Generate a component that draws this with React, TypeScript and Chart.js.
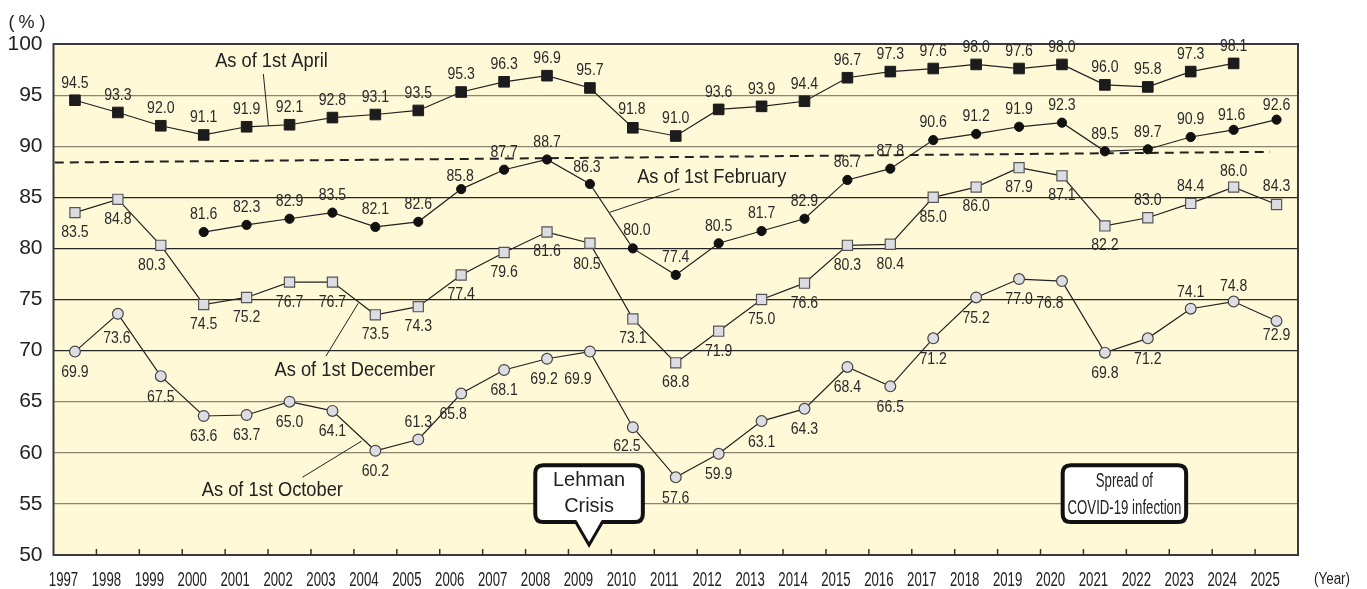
import { useEffect, useRef } from 'react';
import { Chart, registerables } from 'chart.js';

Chart.register(...registerables);

// ---------------- data ----------------
const years = ['1997','1998','1999','2000','2001','2002','2003','2004','2005','2006','2007','2008','2009','2010','2011','2012','2013','2014','2015','2016','2017','2018','2019','2020','2021','2022','2023','2024','2025'];
const aprilRates = [94.5, 93.3, 92.0, 91.1, 91.9, 92.1, 92.8, 93.1, 93.5, 95.3, 96.3, 96.9, 95.7, 91.8, 91.0, 93.6, 93.9, 94.4, 96.7, 97.3, 97.6, 98.0, 97.6, 98.0, 96.0, 95.8, 97.3, 98.1];
const februaryRates = [null, null, null, 81.6, 82.3, 82.9, 83.5, 82.1, 82.6, 85.8, 87.7, 88.7, 86.3, 80.0, 77.4, 80.5, 81.7, 82.9, 86.7, 87.8, 90.6, 91.2, 91.9, 92.3, 89.5, 89.7, 90.9, 91.6, 92.6];
const decemberRates = [83.5, 84.8, 80.3, 74.5, 75.2, 76.7, 76.7, 73.5, 74.3, 77.4, 79.6, 81.6, 80.5, 73.1, 68.8, 71.9, 75.0, 76.6, 80.3, 80.4, 85.0, 86.0, 87.9, 87.1, 82.2, 83.0, 84.4, 86.0, 84.3];
const octoberRates = [69.9, 73.6, 67.5, 63.6, 63.7, 65.0, 64.1, 60.2, 61.3, 65.8, 68.1, 69.2, 69.9, 62.5, 57.6, 59.9, 63.1, 64.3, 68.4, 66.5, 71.2, 75.2, 77.0, 76.8, 69.8, 71.2, 74.1, 74.8, 72.9];
const referenceLineValues = [88.4, 89.45];
const referenceLineSpan = [0.03, 28.35];
const yMin = 50;
const yMax = 100;
const yStep = 5;

// ---------------- styling / annotation layout ----------------
const FONT = "'Liberation Sans', Arial, Helvetica, sans-serif";

// label offsets (px) relative to marker centre: default dy and per-year exceptions [dx, dy]
const labelPlacement: Record<string, { dy: number; ex: Record<number, [number, number]> }> = {
  april: { dy: -17, ex: { 13: [-1, -18] } },
  february: { dy: -17, ex: { 9: [-1, -13], 12: [-3, -16], 13: [4, -18], 27: [-2, -14], 28: [0, -14] } },
  december: { dy: 20, ex: { 2: [-9, 20], 12: [-3, 21], 25: [0, -17], 26: [0, -17], 27: [0, -15], 28: [0, -18] } },
  october: { dy: 21, ex: { 1: [-1, 25], 8: [0, -17], 9: [-8, 21], 11: [-3, 21], 12: [-12, 28], 13: [-6, 19], 23: [-12, 22], 26: [0, -16], 27: [0, -15], 28: [0, 15] } },
};

const seriesCaptions = [
  { text: 'As of 1st April', at: [5.08, 98.34], leader: [[4.89, 97.06], [5.01, 91.98]] },
  { text: 'As of 1st February', at: [15.34, 86.99], leader: [[14.59, 85.81], [12.96, 83.53]] },
  { text: 'As of 1st December', at: [7.02, 68.05], leader: [[7.1, 74.63], [6.35, 69.47]] },
  { text: 'As of 1st October', at: [5.1, 56.31], leader: [[7.18, 61.15], [5.8, 57.6]] },
];

const eventBoxes = [
  { lines: ['Lehman', 'Crisis'], box: [11.18, 58.97, 13.78, 53.03], pointer: [12.17, 12.79, 12.48, 50.98], font: 21, sx: 0.95, lineY: [57.34, 54.73] },
  { lines: ['Spread of', 'COVID-19 infection'], box: [23.47, 58.97, 26.44, 53.03], pointer: null, font: 20, sx: 0.66, lineY: [57.2, 54.6] },
];

const toPoints = (arr: (number | null)[]) =>
  arr.map((v, i) => (v == null ? null : { x: i + 0.5, y: v })).filter(Boolean) as { x: number; y: number }[];

function drawText(ctx: CanvasRenderingContext2D, text: string, x: number, y: number, size: number, sx: number, color = '#222') {
  ctx.save();
  ctx.font = `${size}px ${FONT}`;
  ctx.fillStyle = color;
  ctx.textAlign = 'center';
  ctx.textBaseline = 'middle';
  ctx.translate(x, y);
  ctx.scale(sx, 1);
  ctx.fillText(text, 0, 0);
  ctx.restore();
}

function roundRectPath(ctx: CanvasRenderingContext2D, x: number, y: number, w: number, h: number, r: number) {
  ctx.beginPath();
  ctx.moveTo(x + r, y);
  ctx.lineTo(x + w - r, y);
  ctx.quadraticCurveTo(x + w, y, x + w, y + r);
  ctx.lineTo(x + w, y + h - r);
  ctx.quadraticCurveTo(x + w, y + h, x + w - r, y + h);
  ctx.lineTo(x + r, y + h);
  ctx.quadraticCurveTo(x, y + h, x, y + h - r);
  ctx.lineTo(x, y + r);
  ctx.quadraticCurveTo(x, y, x + r, y);
  ctx.closePath();
}

const decorPlugin = {
  id: 'decor',
  beforeDraw(chart: any) {
    const { ctx, chartArea: a } = chart;
    ctx.save();
    ctx.fillStyle = '#ffffff';
    ctx.fillRect(0, 0, chart.width, chart.height);
    ctx.fillStyle = '#FFF9D8';
    ctx.fillRect(a.left, a.top, a.right - a.left, a.bottom - a.top);
    ctx.restore();
  },
  beforeDatasetsDraw(chart: any) {
    const { ctx, chartArea: a, scales } = chart;
    const xs = scales.x;
    ctx.save();
    // frame
    ctx.strokeStyle = '#3a3a3a';
    ctx.lineWidth = 2;
    ctx.strokeRect(a.left, a.top, a.right - a.left, a.bottom - a.top);
    // inner tick marks + year labels
    ctx.lineWidth = 1.5;
    ctx.strokeStyle = '#333';
    xs.ticks.forEach((t: any) => {
      const px = xs.getPixelForValue(t.value);
      if (t.value > 0 && t.value < years.length) {
        ctx.beginPath();
        ctx.moveTo(px, a.bottom);
        ctx.lineTo(px, a.bottom - 6);
        ctx.stroke();
      }
      if (t.value < years.length) {
        drawText(ctx, years[t.value], px + 10, a.bottom + 25.5, 20, 0.66, '#222');
      }
    });
    drawText(ctx, '(Year)', a.right + 34, a.bottom + 25, 16, 0.84, '#222');
    // "(%)" with wide parentheses
    const pcx = a.left - 27;
    const pcy = a.top - 21;
    drawText(ctx, '(', pcx - 15, pcy, 18, 1, '#222');
    drawText(ctx, '%', pcx, pcy, 18, 1, '#222');
    drawText(ctx, ')', pcx + 16, pcy, 18, 1, '#222');
    ctx.restore();
  },
  afterDatasetsDraw(chart: any) {
    const { ctx, scales } = chart;
    const xs = scales.x;
    const ys = scales.y;
    const keys = ['april', 'february', 'december', 'october'];
    keys.forEach((key, di) => {
      const meta = chart.getDatasetMeta(di);
      const ds = chart.data.datasets[di];
      const place = labelPlacement[key];
      meta.data.forEach((el: any, j: number) => {
        const raw = ds.data[j];
        const yi = Math.round(raw.x - 0.5);
        const off = place.ex[yi] || [0, place.dy];
        drawText(ctx, raw.y.toFixed(1), el.x + off[0], el.y + off[1], 16, 0.88, '#2a2a2a');
      });
    });

    // captions with leader lines
    ctx.save();
    ctx.strokeStyle = '#222';
    ctx.lineWidth = 1;
    seriesCaptions.forEach((c) => {
      ctx.beginPath();
      ctx.moveTo(xs.getPixelForValue(c.leader[0][0]), ys.getPixelForValue(c.leader[0][1]));
      ctx.lineTo(xs.getPixelForValue(c.leader[1][0]), ys.getPixelForValue(c.leader[1][1]));
      ctx.stroke();
      drawText(ctx, c.text, xs.getPixelForValue(c.at[0]), ys.getPixelForValue(c.at[1]), 21, 0.87, '#222');
    });
    ctx.restore();

    // event boxes
    eventBoxes.forEach((b) => {
      const x1 = xs.getPixelForValue(b.box[0]);
      const y1 = ys.getPixelForValue(b.box[1]);
      const x2 = xs.getPixelForValue(b.box[2]);
      const y2 = ys.getPixelForValue(b.box[3]);
      ctx.save();
      roundRectPath(ctx, x1 + 2, y1 + 2, x2 - x1 - 4, y2 - y1 - 4, 8);
      ctx.fillStyle = '#ffffff';
      ctx.fill();
      ctx.lineWidth = 4;
      ctx.strokeStyle = '#111';
      ctx.stroke();
      if (b.pointer) {
        const pl = xs.getPixelForValue(b.pointer[0]);
        const pr = xs.getPixelForValue(b.pointer[1]);
        const pt = xs.getPixelForValue(b.pointer[2]);
        const py = ys.getPixelForValue(b.pointer[3]);
        const by = y2 - 2;
        ctx.beginPath();
        ctx.moveTo(pl, by - 3);
        ctx.lineTo(pt, py);
        ctx.lineTo(pr, by - 3);
        ctx.closePath();
        ctx.fillStyle = '#ffffff';
        ctx.fill();
        ctx.beginPath();
        ctx.moveTo(pl, by);
        ctx.lineTo(pt, py);
        ctx.lineTo(pr, by);
        ctx.lineWidth = 3;
        ctx.lineJoin = 'miter';
        ctx.stroke();
      }
      const cx = (x1 + x2) / 2;
      b.lines.forEach((ln, k) => {
        drawText(ctx, ln, cx, ys.getPixelForValue(b.lineY[k]), b.font, b.sx, '#222');
      });
      ctx.restore();
    });
  },
};

export default function App() {
  const ref = useRef<HTMLCanvasElement | null>(null);

  useEffect(() => {
    const canvas = ref.current;
    if (!canvas) return;
    const chart = new Chart(canvas, {
      type: 'line',
      data: {
        datasets: [
          {
            label: 'As of 1st April',
            data: toPoints(aprilRates),
            borderColor: '#222',
            borderWidth: 1.2,
            pointStyle: 'rect',
            pointRadius: 7.5,
            pointBackgroundColor: '#1c1c1c',
            pointBorderColor: '#1c1c1c',
            pointBorderWidth: 1,
            tension: 0,
          },
          {
            label: 'As of 1st February',
            data: toPoints(februaryRates),
            borderColor: '#222',
            borderWidth: 1.2,
            pointStyle: 'circle',
            pointRadius: 4.6,
            pointBackgroundColor: '#111',
            pointBorderColor: '#111',
            pointBorderWidth: 1,
            tension: 0,
          },
          {
            label: 'As of 1st December',
            data: toPoints(decemberRates),
            borderColor: '#222',
            borderWidth: 1.2,
            pointStyle: 'rect',
            pointRadius: 7.2,
            pointBackgroundColor: '#dcdde3',
            pointBorderColor: '#555',
            pointBorderWidth: 1.2,
            tension: 0,
          },
          {
            label: 'As of 1st October',
            data: toPoints(octoberRates),
            borderColor: '#222',
            borderWidth: 1.2,
            pointStyle: 'circle',
            pointRadius: 5.4,
            pointBackgroundColor: '#dcdde3',
            pointBorderColor: '#444',
            pointBorderWidth: 1.2,
            tension: 0,
          },
          {
            label: 'reference',
            data: [
              { x: referenceLineSpan[0], y: referenceLineValues[0] },
              { x: referenceLineSpan[1], y: referenceLineValues[1] },
            ],
            borderColor: '#222',
            borderWidth: 2,
            borderDash: [9, 6],
            pointRadius: 0,
            tension: 0,
          },
        ],
      },
      options: {
        animation: false,
        responsive: false,
        maintainAspectRatio: false,
        layout: { padding: { left: 0, top: 44, right: 69, bottom: 0 } },
        plugins: { legend: { display: false }, tooltip: { enabled: false }, title: { display: false } },
        scales: {
          x: {
            type: 'linear',
            min: 0,
            max: years.length,
            border: { display: false },
            grid: { display: false },
            ticks: { stepSize: 1, display: false, autoSkip: false },
            afterFit: (s: any) => { s.height = 34; },
          },
          y: {
            min: yMin,
            max: yMax,
            border: { display: false },
            grid: {
              drawTicks: false,
              lineWidth: 1.2,
              color: (c: any) => {
                const v = c.tick?.value;
                if (v === yMin || v === yMax) return 'rgba(0,0,0,0)';
                if (v >= 70 && v <= 85) return '#262626';
                return '#8a8570';
              },
            },
            ticks: {
              stepSize: yStep,
              padding: 11,
              color: '#222',
              font: { family: FONT, size: 21 },
            },
            afterFit: (s: any) => { s.width = 53.5; },
          },
        },
      },
      plugins: [decorPlugin],
    } as any);
    return () => chart.destroy();
  }, []);

  return (
    <div style={{ position: 'fixed', left: 0, top: 0, width: 1367, height: 589, background: '#fff' }}>
      <canvas ref={ref} width={1367} height={589} style={{ display: 'block' }} />
    </div>
  );
}
